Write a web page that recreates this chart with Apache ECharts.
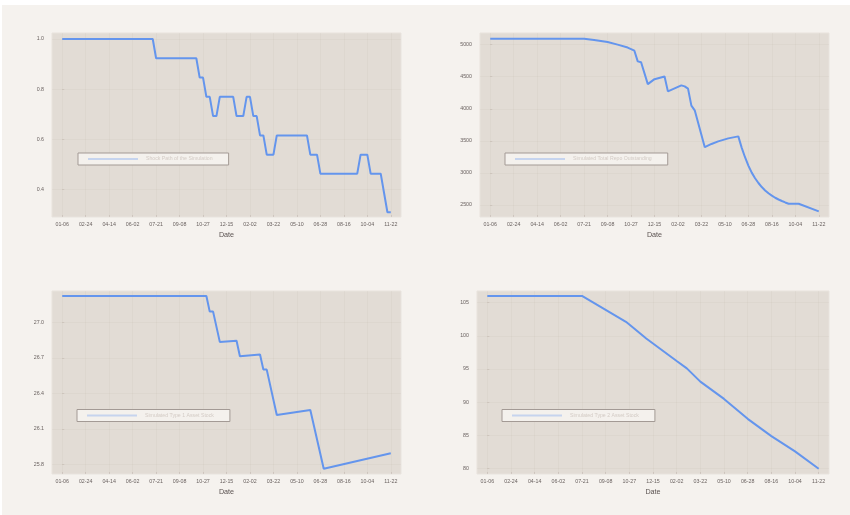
<!DOCTYPE html>
<html>
<head>
<meta charset="utf-8">
<script src="https://cdn.jsdelivr.net/npm/echarts@6/dist/echarts.min.js"></script>
<style>
  html, body { margin: 0; padding: 0; background: #ffffff; }
  #chart { position: absolute; left: 2px; top: 5px; width: 848px; height: 510px; }
</style>
</head>
<body>
<div id="chart"></div>
<script>
// Weekly simulation, week 0 = 01-06; date ticks every 7 weeks
const tickWeeks = [0, 7, 14, 21, 28, 35, 42, 49, 56, 63, 70, 77, 84, 91, 98];
const tickLabels = ['01-06', '02-24', '04-14', '06-02', '07-21', '09-08', '10-27',
  '12-15', '02-02', '03-22', '05-10', '06-28', '08-16', '10-04', '11-22'];

// [week, value] pairs
const shockPath = [
  [0, 1.0], [27, 1.0], [28, 0.923], [40, 0.923], [41, 0.846], [42, 0.846],
  [43, 0.769], [44, 0.769], [45, 0.692], [46, 0.692], [47, 0.769], [51, 0.769],
  [52, 0.692], [54, 0.692], [55, 0.769], [56, 0.769], [57, 0.692], [58, 0.692],
  [59, 0.615], [60, 0.615], [61, 0.538], [63, 0.538], [64, 0.615], [73, 0.615],
  [74, 0.538], [76, 0.538], [77, 0.462], [88, 0.462], [89, 0.538], [91, 0.538],
  [92, 0.462], [95, 0.462], [96, 0.385], [97, 0.308], [98, 0.308]
];
const repoOutstanding = [
  [0, 5094], [28, 5094], [31, 5074], [35, 5042], [38, 5001], [41, 4955],
  [43, 4906], [44, 4740], [45, 4725], [47, 4385], [49, 4462], [52, 4504],
  [53, 4272], [57, 4366], [58, 4350], [59, 4314], [60, 4049], [61, 3976],
  [64, 3402], [66, 3452], [68, 3492], [71, 3539], [74, 3570], [75, 3395],
  [76, 3245], [77, 3115], [78, 3005], [79, 2918], [80, 2843], [81, 2780],
  [82, 2727], [83, 2683], [84, 2646], [85, 2613], [86, 2586], [87, 2562],
  [88, 2540], [89, 2520], [92, 2520], [98, 2400]
];
const type1Stock = [
  [0, 27.222], [43, 27.222], [44, 27.09], [45, 27.09], [47, 26.834], [52, 26.843],
  [53, 26.713], [59, 26.727], [60, 26.60], [61, 26.60], [64, 26.216], [74, 26.258],
  [78, 25.763], [98, 25.893]
];
const type2Stock = [
  [0, 106.0], [28, 106.0], [35, 103.9], [41, 102.1], [42, 101.7], [47, 99.6],
  [56, 96.2], [59, 95.1], [63, 93.1], [70, 90.5], [77, 87.5], [84, 84.9],
  [91, 82.6], [98, 80.0]
];

const seriesNames = ['Shock Path of the Simulation', 'Simulated Total Repo Outstanding',
  'Simulated Type 1 Asset Stock', 'Simulated Type 2 Asset Stock'];
const yTicks = [
  [0.4, 0.6, 0.8, 1.0],
  [2500, 3000, 3500, 4000, 4500, 5000],
  [25.8, 26.1, 26.4, 26.7, 27.0],
  [80, 85, 90, 95, 100, 105]
];
const yRanges = [[0.289, 1.024], [2313, 5182], [25.718, 27.264], [79.2, 106.74]];
const yDecimals = [1, 0, 1, 0];
const seriesData = [shockPath, repoOutstanding, type1Stock, type2Stock];

const FONT = 'Liberation Sans';
const LINE = '#6495ED';
const PLOT_BG = '#e2dcd5';

// panel layout (relative to the chart container)
const grids = [
  { left: 50, top: 28, width: 349, height: 184 },
  { left: 478, top: 28, width: 349, height: 184 },
  { left: 50, top: 286, width: 349, height: 183 },
  { left: 475, top: 286, width: 352, height: 183 }
];
const legendPos = [
  { left: 76, top: 148 },
  { left: 503, top: 148 },
  { left: 75, top: 404.5 },
  { left: 500, top: 404.5 }
];

const option = {
  backgroundColor: '#f5f2ee',
  animation: false,
  grid: grids.map(g => Object.assign({
    show: true, backgroundColor: PLOT_BG, borderColor: '#e8e3dd', borderWidth: 1,
    containLabel: false
  }, g)),
  xAxis: grids.map((g, i) => ({
    type: 'value', gridIndex: i, min: -3.05, max: 101.05,
    name: 'Date', nameLocation: 'middle', nameGap: 15,
    nameTextStyle: { fontFamily: FONT, fontSize: 7.2, color: '#5a5250' },
    axisLine: { show: false },
    axisTick: { show: true, inside: true, length: 2, customValues: tickWeeks,
      lineStyle: { color: 'rgba(90,70,60,0.2)', width: 0.6 } },
    axisLabel: { customValues: tickWeeks, margin: 5, fontFamily: FONT, fontSize: 5.3,
      color: '#6a6260', formatter: v => tickLabels[tickWeeks.indexOf(Math.round(v))] || '' },
    splitLine: { show: true, lineStyle: { color: 'rgba(150,130,115,0.06)', width: 1 } }
  })),
  yAxis: grids.map((g, i) => ({
    type: 'value', gridIndex: i, min: yRanges[i][0], max: yRanges[i][1],
    axisLine: { show: false },
    axisTick: { show: true, inside: true, length: 2, customValues: yTicks[i],
      lineStyle: { color: 'rgba(90,70,60,0.2)', width: 0.6 } },
    axisLabel: { customValues: yTicks[i], margin: 8, fontFamily: FONT, fontSize: 5.3,
      color: '#6a6260', formatter: v => Number(v).toFixed(yDecimals[i]) },
    splitLine: { show: true, lineStyle: { color: 'rgba(150,130,115,0.06)', width: 1 } }
  })),
  legend: seriesNames.map((n, i) => ({
    data: [n], orient: 'vertical', left: legendPos[i].left, top: legendPos[i].top,
    backgroundColor: '#f4f1ed', borderColor: '#a39a95', borderWidth: 1,
    padding: [3.5, 16, 3.5, 9], itemWidth: 50, itemHeight: 6,
    itemStyle: { opacity: 0 },
    lineStyle: { color: '#c6d4ee', width: 2 },
    textStyle: { fontFamily: FONT, fontSize: 5.2, color: '#d3cbc5', padding: [0, 0, 0, 3] },
    selectedMode: false
  })),
  series: seriesNames.map((n, i) => ({
    name: n, type: 'line', xAxisIndex: i, yAxisIndex: i,
    data: seriesData[i], symbol: 'none', showSymbol: false,
    lineStyle: { color: LINE, width: 2 }, itemStyle: { color: LINE }
  }))
};

const chart = echarts.init(document.getElementById('chart'), null, { renderer: 'canvas' });
chart.setOption(option);
</script>
</body>
</html>
